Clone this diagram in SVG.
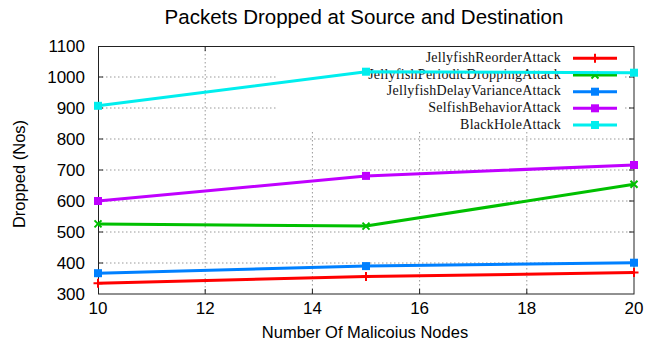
<svg xmlns="http://www.w3.org/2000/svg" width="645" height="345" viewBox="0 0 645 345">
<defs>
<style>
.sans{font-family:"Liberation Sans",Arial,sans-serif;fill:#000}
.tick{font-size:17px}
.ylab{text-anchor:end}
.xlab{text-anchor:middle}
.grid{stroke:#999;stroke-width:1;stroke-dasharray:1.5,2.5;fill:none}
.axis{stroke:#222;stroke-width:1;fill:none}
.key{font-family:"Liberation Serif","Times New Roman",serif;font-size:14px;letter-spacing:0.25px;text-anchor:end;fill:#111}
.ln{fill:none;stroke-width:3;stroke-linejoin:round}
</style>
<g id="m-plus"><path d="M-4.5,0H4.5M0,-4.5V4.5" stroke-width="2"/></g>
<g id="m-x"><path d="M-3.5,-3.5L3.5,3.5M-3.5,3.5L3.5,-3.5" stroke-width="2"/></g>
<rect id="m-sq" x="-4" y="-4" width="8" height="8"/>
</defs>
<rect x="0" y="0" width="645" height="345" fill="#fff"/>
<text class="sans" x="364" y="24" font-size="20.5" text-anchor="middle">Packets Dropped at Source and Destination</text>
<g id="grid">
<path class="grid" d="M98,263H634M98,232H634M98,201H634M98,170H634M98,139H634M98,108H277M625,108H634M98,77H277M625,77H634"/>
<path class="grid" d="M205.2,46V294M312.4,132V294M419.6,132V294M526.8,132V294"/>
</g>
<g id="axes">
<rect class="axis" x="98.5" y="46.5" width="535.5" height="247.5"/>
<path class="axis" d="M98,263h5M98,232h5M98,201h5M98,170h5M98,139h5M98,108h5M98,77h5M634,263h-5M634,232h-5M634,201h-5M634,170h-5M634,139h-5M634,108h-5M634,77h-5M205.2,294v-5M312.4,294v-5M419.6,294v-5M526.8,294v-5M205.2,46v5M312.4,46v5M419.6,46v5M526.8,46v5"/>
</g>
<g id="y-ticks" class="sans tick ylab">
<text x="85" y="300">300</text>
<text x="85" y="269">400</text>
<text x="85" y="238">500</text>
<text x="85" y="207">600</text>
<text x="85" y="176">700</text>
<text x="85" y="145">800</text>
<text x="85" y="114">900</text>
<text x="85" y="83">1000</text>
<text x="85" y="52">1100</text>
</g>
<g id="x-ticks" class="sans tick xlab">
<text x="98" y="314">10</text>
<text x="205.2" y="314">12</text>
<text x="312.4" y="314">14</text>
<text x="419.6" y="314">16</text>
<text x="526.8" y="314">18</text>
<text x="634" y="314">20</text>
</g>
<text class="sans" x="365" y="338" font-size="16.5" text-anchor="middle">Number Of Malicoius Nodes</text>
<text class="sans" transform="translate(25,174) rotate(-90)" font-size="16.5" text-anchor="middle">Dropped (Nos)</text>
<g id="legend">
<rect x="277" y="47" width="348" height="85" fill="#fff"/>
<text class="key" x="561" y="62">JellyfishReorderAttack</text>
<text class="key" x="561" y="78.5">JellyfishPeriodicDroppingAttack</text>
<text class="key" x="561" y="95">JellyfishDelayVarianceAttack</text>
<text class="key" x="561" y="111.5">SelfishBehaviorAttack</text>
<text class="key" x="561" y="128.5">BlackHoleAttack</text>
<g stroke="#ff0000"><path class="ln" d="M573,58.3H617"/><use href="#m-plus" x="595" y="58.3"/></g>
<g stroke="#00c000"><path class="ln" d="M573,75H617"/><use href="#m-x" x="595" y="75"/></g>
<g stroke="#0080ff" fill="#0080ff"><path class="ln" d="M573,91.7H617"/><use href="#m-sq" x="595" y="91.7" stroke="none"/></g>
<g stroke="#c000ff" fill="#c000ff"><path class="ln" d="M573,108.3H617"/><use href="#m-sq" x="595" y="108.3" stroke="none"/></g>
<g stroke="#00eeee" fill="#00eeee"><path class="ln" d="M573,125H617"/><use href="#m-sq" x="595" y="125" stroke="none"/></g>
</g>
<g id="connectors">
<g id="s-reorder" stroke="#ff0000"><path class="ln" d="M98,283.2L366,276.6L634,272.6"/><use href="#m-plus" x="98" y="283.2"/><use href="#m-plus" x="366" y="276.6"/><use href="#m-plus" x="634" y="272.6"/></g>
<g id="s-delay" stroke="#0080ff" fill="#0080ff"><path class="ln" d="M98,273.2L366,266.1L634,262.7"/><use href="#m-sq" x="98" y="273.2" stroke="none"/><use href="#m-sq" x="366" y="266.1" stroke="none"/><use href="#m-sq" x="634" y="262.7" stroke="none"/></g>
<g id="s-periodic" stroke="#00c000"><path class="ln" d="M98,223.9L366,226.1L634,184.3"/><use href="#m-x" x="98" y="223.9"/><use href="#m-x" x="366" y="226.1"/><use href="#m-x" x="634" y="184.3"/></g>
<g id="s-selfish" stroke="#c000ff" fill="#c000ff"><path class="ln" d="M98,201L366,175.9L634,165"/><use href="#m-sq" x="98" y="201" stroke="none"/><use href="#m-sq" x="366" y="175.9" stroke="none"/><use href="#m-sq" x="634" y="165" stroke="none"/></g>
<g id="s-blackhole" stroke="#00eeee" fill="#00eeee"><path class="ln" d="M98,105.8L366,71.7L634,72.7"/><use href="#m-sq" x="98" y="105.8" stroke="none"/><use href="#m-sq" x="366" y="71.7" stroke="none"/><use href="#m-sq" x="634" y="72.7" stroke="none"/></g>
</g>
</svg>
